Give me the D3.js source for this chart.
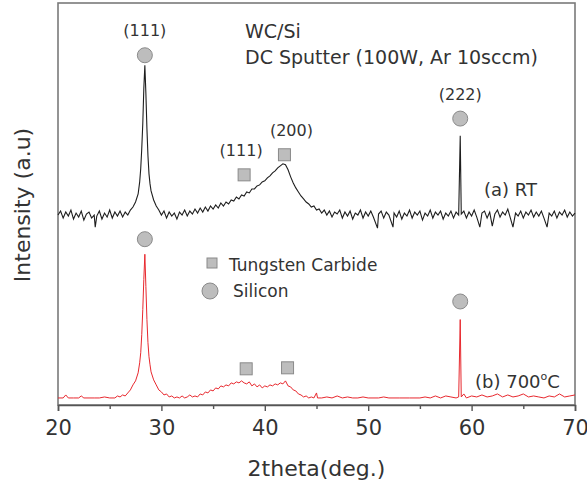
<!DOCTYPE html>
<html>
<head>
<meta charset="utf-8">
<script src="https://cdn.jsdelivr.net/npm/d3@7"></script>
<style>
  html, body { margin: 0; padding: 0; background: #fff; }
  svg text { font-family: "DejaVu Sans", sans-serif; fill: #333; }
</style>
</head>
<body>
<div id="chart"></div>
<script>
// 2theta (deg.) vs intensity (arbitrary units)
var thetaTicks = [20, 30, 40, 50, 60, 70];
var thetaMinor = [25, 35, 45, 55, 65];

// (a) RT, as deposited - plotted with an offset above (b)
var rtPattern = [
  [20.00, 9], [20.25, 13], [20.50, 6], [20.75, 12], [21.00, 8], [21.25, 14], [21.50, 5], [21.75, 11],
  [22.00, 7], [22.25, 13], [22.50, 4], [22.75, 10], [23.00, 12], [23.25, 6], [23.50, 9], [23.60, -3],
  [23.75, 8], [24.00, 13], [24.25, 5], [24.50, 11], [24.75, 7], [25.00, 14], [25.25, 6], [25.50, 12],
  [25.75, 8], [26.00, 13], [26.25, 7], [26.50, 12], [26.75, 9], [27.00, 14], [27.25, 17], [27.50, 22],
  [27.75, 30], [27.90, 42], [28.00, 55], [28.10, 75], [28.20, 100], [28.30, 135], [28.40, 158], [28.50, 130],
  [28.60, 95], [28.70, 68], [28.80, 50], [28.90, 40], [29.00, 33], [29.25, 24], [29.50, 18], [29.75, 14],
  [30.00, 9], [30.25, 13], [30.50, 6], [30.75, 12], [31.00, 8], [31.25, 11], [31.50, 5], [31.75, 12],
  [32.00, 9], [32.25, 14], [32.50, 8], [32.75, 13], [33.00, 10], [33.25, 15], [33.50, 11], [33.75, 16],
  [34.00, 12], [34.25, 17], [34.50, 13], [34.75, 18], [35.00, 15], [35.25, 19], [35.50, 16], [35.75, 21],
  [36.00, 18], [36.25, 22], [36.50, 20], [36.75, 24], [37.00, 23], [37.25, 27], [37.50, 25], [37.75, 29],
  [38.00, 28], [38.25, 32], [38.50, 31], [38.75, 35], [39.00, 35], [39.25, 38], [39.50, 39], [39.75, 42],
  [40.00, 43], [40.25, 46], [40.50, 48], [40.75, 51], [41.00, 53], [41.25, 56], [41.50, 58], [41.75, 60],
  [42.00, 59], [42.25, 54], [42.50, 47], [42.75, 41], [43.00, 36], [43.25, 32], [43.50, 28], [43.75, 25],
  [44.00, 22], [44.25, 20], [44.50, 17], [44.75, 18], [45.00, 14], [45.25, 15], [45.50, 11], [45.75, 14],
  [46.00, 9], [46.25, 13], [46.50, 7], [46.75, 12], [47.00, 10], [47.25, 14], [47.50, 6], [47.75, 12],
  [48.00, 8], [48.25, 13], [48.50, 5], [48.75, 11], [49.00, 9], [49.25, 14], [49.50, 6], [49.75, 12],
  [50.00, 8], [50.25, 13], [50.50, 7], [50.90, -4], [51.00, 10], [51.25, 13], [51.50, 6], [51.75, 12],
  [52.00, 9], [52.40, -3], [52.50, 11], [52.75, 7], [53.00, 13], [53.25, 5], [53.50, 11], [53.75, 8],
  [54.00, 14], [54.25, 6], [54.50, 12], [54.75, 9], [55.00, 13], [55.25, 4], [55.50, 11], [55.75, 8],
  [56.00, 14], [56.25, 6], [56.50, 12], [56.75, 9], [57.00, 13], [57.25, 5], [57.50, 11], [57.75, 8],
  [58.00, 13], [58.25, 6], [58.50, 12], [58.75, 9], [58.90, 88], [59.00, 10], [59.25, 13], [59.50, 6],
  [59.75, 12], [60.00, 8], [60.25, 14], [60.50, 7], [60.80, -3], [61.00, 11], [61.25, 13], [61.50, 6],
  [61.75, 12], [62.00, -2], [62.25, 10], [62.50, 14], [62.75, 7], [63.00, 12], [63.25, 9], [63.50, 15],
  [63.75, 6], [64.00, -3], [64.25, 11], [64.50, 8], [64.75, 13], [65.00, 6], [65.25, 12], [65.50, 9],
  [65.75, 14], [66.00, 7], [66.25, 12], [66.50, 8], [66.75, 13], [67.00, 6], [67.30, -3], [67.50, 11],
  [67.75, 8], [68.00, 13], [68.25, 6], [68.50, 12], [68.75, 9], [69.00, 14], [69.25, 7], [69.50, 12],
  [69.75, 8], [70.00, 11]
];
var rtOffset = 180;

// (b) annealed at 700 C
var annealedPattern = [
  [20.00, 7], [20.50, 7], [20.75, 10], [21.00, 7], [21.50, 7], [22.00, 7], [22.25, 9], [22.50, 7],
  [23.00, 7], [23.50, 7], [24.00, 7], [24.50, 8], [25.00, 7], [25.50, 7], [25.75, 9], [26.00, 8],
  [26.25, 10], [26.50, 9], [26.75, 12], [27.00, 15], [27.25, 20], [27.50, 24], [27.75, 32], [27.90, 42],
  [28.00, 52], [28.10, 70], [28.20, 95], [28.30, 125], [28.40, 150], [28.50, 118], [28.60, 85], [28.70, 62],
  [28.80, 48], [28.90, 40], [29.00, 33], [29.25, 25], [29.50, 20], [29.75, 15], [30.00, 13], [30.25, 10],
  [30.50, 11], [30.75, 8], [31.00, 9], [31.25, 7], [31.50, 8], [31.75, 7], [32.00, 9], [32.25, 7],
  [32.50, 8], [32.75, 10], [33.00, 8], [33.25, 9], [33.50, 8], [33.75, 11], [34.00, 10], [34.25, 13],
  [34.50, 12], [34.75, 15], [35.00, 14], [35.25, 17], [35.50, 16], [35.75, 19], [36.00, 18], [36.25, 20],
  [36.50, 19], [36.75, 22], [37.00, 21], [37.25, 23], [37.50, 22], [37.75, 24], [38.00, 22], [38.25, 21],
  [38.50, 23], [38.75, 19], [39.00, 21], [39.25, 18], [39.50, 20], [39.75, 17], [40.00, 19], [40.25, 18],
  [40.50, 20], [40.75, 19], [41.00, 21], [41.25, 20], [41.50, 22], [41.75, 21], [42.00, 24], [42.25, 19],
  [42.50, 18], [42.75, 15], [43.00, 14], [43.25, 11], [43.50, 10], [43.75, 8], [44.00, 9], [44.25, 7],
  [44.50, 8], [44.75, 7], [45.00, 12], [45.10, 7], [45.50, 7], [46.00, 8], [46.50, 7], [47.00, 9],
  [47.50, 7], [48.00, 8], [48.50, 7], [49.00, 7], [49.50, 8], [50.00, 7], [51.00, 7], [51.50, 8],
  [52.00, 7], [53.00, 7], [54.00, 7], [55.00, 7], [55.50, 8], [56.00, 7], [56.50, 9], [57.00, 7],
  [57.50, 9], [58.00, 8], [58.50, 7], [58.75, 8], [58.90, 85], [59.00, 8], [59.25, 11], [59.50, 7],
  [60.00, 9], [60.50, 8], [61.00, 10], [61.50, 8], [62.00, 9], [62.50, 11], [63.00, 8], [63.50, 10],
  [64.00, 8], [64.50, 9], [65.00, 11], [65.50, 8], [66.00, 9], [66.50, 8], [67.00, 7], [67.50, 9],
  [68.00, 8], [68.50, 11], [69.00, 8], [69.50, 9], [70.00, 10]
];

// peak markers: phase, 2theta, level (same units as the plot), hkl label
var siliconMarks = [
  { theta: 28.4, level: 348, label: "(111)" },
  { theta: 58.9, level: 285, label: "(222)" },
  { theta: 28.4, level: 165, label: "" },
  { theta: 58.9, level: 103, label: "" }
];
var carbideMarks = [
  { theta: 38.0, level: 229, label: "(111)", dx: -3 },
  { theta: 41.9, level: 249, label: "(200)", dx: 7 },
  { theta: 38.2, level: 36, label: "" },
  { theta: 42.2, level: 37, label: "" }
];

var width = 587, height = 480;
var margin = { top: 3, right: 12, bottom: 75, left: 58 };

var svg = d3.select("#chart").append("svg")
  .attr("width", width)
  .attr("height", height);

var x = d3.scaleLinear().domain([20, 70]).range([margin.left, width - margin.right]);
var y = d3.scaleLinear().domain([0, 400]).range([height - margin.bottom, margin.top]);

var markFill = "#bdbdbd", markStroke = "#8a8a8a";

// frame
svg.append("rect")
  .attr("x", margin.left)
  .attr("y", margin.top)
  .attr("width", width - margin.left - margin.right)
  .attr("height", height - margin.top - margin.bottom)
  .attr("fill", "none")
  .attr("stroke", "#7a7a7a")
  .attr("stroke-width", 1.6);

var line = d3.line()
  .x(function(d) { return x(d[0]); });

svg.append("path")
  .datum(annealedPattern)
  .attr("fill", "none")
  .attr("stroke", "#e8282e")
  .attr("stroke-width", 1)
  .attr("d", line.y(function(d) { return y(d[1]); }));

svg.append("path")
  .datum(rtPattern)
  .attr("fill", "none")
  .attr("stroke", "#1e1e1e")
  .attr("stroke-width", 1.1)
  .attr("d", line.y(function(d) { return y(d[1] + rtOffset); }));

// bottom axis
var xAxis = svg.append("g")
  .attr("transform", "translate(0," + (height - margin.bottom) + ")")
  .call(d3.axisBottom(x).tickValues(thetaTicks).tickSize(6).tickPadding(9).tickFormat(d3.format("d")));
xAxis.select(".domain").attr("stroke", "#555").attr("stroke-width", 1.6);
xAxis.selectAll(".tick line").attr("stroke", "#555").attr("stroke-width", 1.4);
xAxis.selectAll(".tick text").attr("font-size", 21).attr("fill", "#333")
  .attr("font-family", "DejaVu Sans, sans-serif");

var xMinor = svg.append("g")
  .attr("transform", "translate(0," + (height - margin.bottom) + ")")
  .call(d3.axisBottom(x).tickValues(thetaMinor).tickSize(4).tickFormat(""));
xMinor.select(".domain").remove();
xMinor.selectAll(".tick line").attr("stroke", "#555").attr("stroke-width", 1.4);

// axis titles
svg.append("text")
  .attr("x", (x(20) + x(70)) / 2)
  .attr("y", 476)
  .attr("text-anchor", "middle")
  .attr("font-size", 22)
  .text("2theta(deg.)");

svg.append("text")
  .attr("transform", "translate(30,205) rotate(-90)")
  .attr("text-anchor", "middle")
  .attr("font-size", 22)
  .text("Intensity (a.u)");

// markers
svg.selectAll(".si").data(siliconMarks).enter().append("circle")
  .attr("cx", function(d) { return x(d.theta); })
  .attr("cy", function(d) { return y(d.level); })
  .attr("r", 7.5)
  .attr("fill", markFill)
  .attr("stroke", markStroke);

svg.selectAll(".wc").data(carbideMarks).enter().append("rect")
  .attr("x", function(d) { return x(d.theta) - 6; })
  .attr("y", function(d) { return y(d.level) - 6; })
  .attr("width", 12)
  .attr("height", 12)
  .attr("fill", markFill)
  .attr("stroke", markStroke);

svg.selectAll(".hkl").data(siliconMarks.concat(carbideMarks).filter(function(d) { return d.label; }))
  .enter().append("text")
  .attr("x", function(d) { return x(d.theta) + (d.dx || 0); })
  .attr("y", function(d) { return y(d.level) - 19; })
  .attr("text-anchor", "middle")
  .attr("font-size", 16)
  .text(function(d) { return d.label; });

// sample description
svg.append("text").attr("x", 245).attr("y", 38).attr("font-size", 19).text("WC/Si");
svg.append("text").attr("x", 245).attr("y", 64).attr("font-size", 19).text("DC Sputter (100W, Ar 10sccm)");

// series labels
svg.append("text").attr("x", 484).attr("y", 196).attr("font-size", 18).text("(a) RT");
var lb = svg.append("text").attr("x", 475).attr("y", 388).attr("font-size", 18);
lb.append("tspan").text("(b) 700");
lb.append("tspan").attr("font-size", 11).attr("dy", -8).text("o");
lb.append("tspan").attr("dy", 8).text("C");

// legend
svg.append("rect").attr("x", 207).attr("y", 258).attr("width", 10).attr("height", 10)
  .attr("fill", markFill).attr("stroke", markStroke);
svg.append("text").attr("x", 229).attr("y", 271).attr("font-size", 17).text("Tungsten Carbide");
svg.append("circle").attr("cx", 210).attr("cy", 291).attr("r", 8)
  .attr("fill", markFill).attr("stroke", markStroke);
svg.append("text").attr("x", 233).attr("y", 297).attr("font-size", 17).text("Silicon");
</script>
</body>
</html>
